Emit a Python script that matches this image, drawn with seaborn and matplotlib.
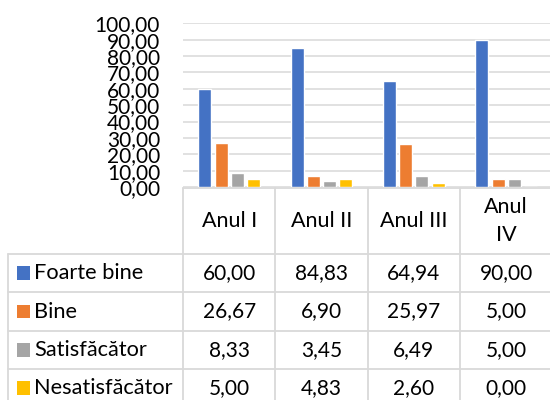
import matplotlib
matplotlib.use("Agg")
import matplotlib.pyplot as plt
from matplotlib.lines import Line2D
from matplotlib.patches import Rectangle
import seaborn as sns
import pandas as pd

# ---- data ----
years = ["Anul I", "Anul II", "Anul III", "Anul IV"]
year_labels = ["Anul I", "Anul II", "Anul III", "Anul\nIV"]
series_names = ["Foarte bine", "Bine", "Satisfăcător", "Nesatisfăcător"]
foarte_bine = [60.00, 84.83, 64.94, 90.00]
bine = [26.67, 6.90, 25.97, 5.00]
satisfacator = [8.33, 3.45, 6.49, 5.00]
nesatisfacator = [5.00, 4.83, 2.60, 0.00]
colors = ["#4472C4", "#ED7D31", "#A5A5A5", "#FFC000"]
y_ticks = [0, 10, 20, 30, 40, 50, 60, 70, 80, 90, 100]

series_values = [foarte_bine, bine, satisfacator, nesatisfacator]
rows = []
for name, vals in zip(series_names, series_values):
    for yr, v in zip(years, vals):
        rows.append({"An": yr, "Categorie": name, "Valoare": v})
df = pd.DataFrame(rows)

sns.set_style("white")
plt.rcParams["font.family"] = ["Lato", "DejaVu Sans"]

W, H = 550, 400
fig = plt.figure(figsize=(5.5, 4.0), dpi=100)

def fx(x):
    return x / W

def fy(y):
    return 1 - y / H

# axes geometry in pixels
x0, x1 = 183.0, 552.3
y_top, y_bot = 23.3, 187.0
ax = fig.add_axes([fx(x0), fy(y_bot), fx(x1) - fx(x0), fy(y_top) - fy(y_bot)])

sns.barplot(data=df, x="An", y="Valoare", hue="Categorie", palette=colors,
            order=years, hue_order=series_names, width=0.7, gap=0.2,
            saturation=1, legend=False, ax=ax, zorder=3)

ax.set_xlim(-0.5, 3.5)
ax.set_ylim(0, 100)
ax.set_yticks(y_ticks)
ax.set_yticklabels([f"{v:.2f}".replace(".", ",") for v in y_ticks], fontsize=15)
ax.tick_params(axis="y", length=0, pad=16.5, colors="#000000")
ax.set_xticks([])
ax.set_xlabel("")
ax.set_ylabel("")
ax.yaxis.grid(True, color="#D9D9D9", linewidth=1.1, zorder=0)
ax.set_axisbelow(True)
for s in ax.spines.values():
    s.set_visible(False)

# ---- data table ----
line_kw = dict(color="#D9D9D9", linewidth=1.3)
col_x = [183.0, 275.3, 367.7, 460.0, 552.3]
tbl_left = 7.5
header_top = 188.3
row_y = [254.0, 292.3, 330.7, 369.0, 407.3]

# header row
fig.add_artist(Line2D([fx(col_x[0]), fx(col_x[-1])], [fy(header_top)] * 2, **line_kw))
for cx in col_x:
    fig.add_artist(Line2D([fx(cx)] * 2, [fy(header_top), fy(row_y[0])], **line_kw))
# data rows
for ry in row_y:
    fig.add_artist(Line2D([fx(tbl_left), fx(col_x[-1])], [fy(ry)] * 2, **line_kw))
for cx in [tbl_left] + col_x:
    fig.add_artist(Line2D([fx(cx)] * 2, [fy(row_y[0]), fy(row_y[-1])], **line_kw))

# header labels
for i, lab in enumerate(year_labels):
    cx = (col_x[i] + col_x[i + 1]) / 2
    cy = (header_top + row_y[0]) / 2
    fig.text(fx(cx), fy(cy), lab, ha="center", va="center", fontsize=15.5,
             linespacing=1.5, color="#000000")

# rows
for r, (name, vals, col) in enumerate(zip(series_names, series_values, colors)):
    cy = (row_y[r] + row_y[r + 1]) / 2
    sq = 13.5
    fig.add_artist(Rectangle((fx(16.5), fy(cy + sq / 2)), fx(sq), sq / H,
                             facecolor=col, edgecolor="none"))
    fig.text(fx(34.5), fy(cy), name, ha="left", va="center", fontsize=15.7, color="#000000")
    for i, v in enumerate(vals):
        cx = (col_x[i] + col_x[i + 1]) / 2
        fig.text(fx(cx), fy(cy), f"{v:.2f}".replace(".", ","), ha="center",
                 va="center", fontsize=15, color="#000000")

fig.savefig("out.png", dpi=100)
